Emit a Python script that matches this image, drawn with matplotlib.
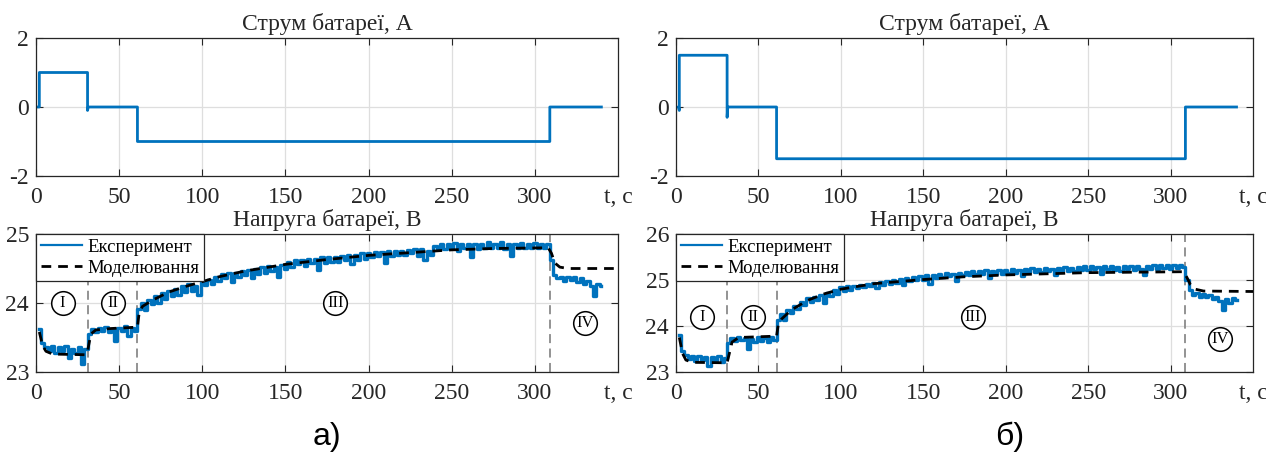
import numpy as np
import matplotlib
matplotlib.use("Agg")
import matplotlib.pyplot as plt

plt.rcParams['font.family'] = ['Liberation Serif', 'DejaVu Serif']

BLUE = '#0072BD'

# ---------------- data ----------------
# battery current (A), step profile
cur_t_a = [1.5, 2.0, 2.0, 31.0, 31.0, 31.4, 61.0, 61.0, 309.0, 309.0, 340.0]
cur_i_a = [0.0, 0.0, 1.0, 1.0, -0.1, 0.0, 0.0, -1.0, -1.0, 0.0, 0.0]
cur_t_b = [1.5, 2.0, 2.0, 31.0, 31.0, 31.4, 61.0, 61.0, 309.0, 309.0, 340.0]
cur_i_b = [0.0, -0.1, 1.5, 1.5, -0.3, 0.0, 0.0, -1.5, -1.5, 0.0, 0.0]

# experimental voltage (V), sampled every 2 s from t=2 to t=340
exp_t = list(range(2, 341, 2))
exp_v_a = [
    23.62, 23.42, 23.36, 23.30, 23.38, 23.28, 23.36, 23.30, 23.37, 23.20,
    23.34, 23.28, 23.36, 23.12, 23.34, 23.55, 23.62, 23.58, 23.64, 23.60,
    23.65, 23.58, 23.62, 23.45, 23.64, 23.60, 23.66, 23.52, 23.64, 23.60,
    23.92, 24.00, 23.90, 24.05, 23.98, 24.10, 24.00, 24.14, 24.06, 24.18,
    24.10, 24.20, 24.12, 24.24, 24.16, 24.28, 24.18, 24.24, 24.12, 24.30,
    24.26, 24.34, 24.28, 24.38, 24.32, 24.42, 24.36, 24.44, 24.30, 24.44,
    24.38, 24.46, 24.40, 24.48, 24.36, 24.50, 24.42, 24.52, 24.44, 24.54,
    24.46, 24.52, 24.38, 24.55, 24.50, 24.60, 24.52, 24.62, 24.56, 24.62,
    24.54, 24.64, 24.58, 24.64, 24.48, 24.66, 24.58, 24.66, 24.60, 24.67,
    24.60, 24.68, 24.62, 24.70, 24.56, 24.70, 24.62, 24.72, 24.64, 24.72,
    24.66, 24.74, 24.68, 24.74, 24.58, 24.75, 24.68, 24.76, 24.70, 24.76,
    24.70, 24.77, 24.72, 24.78, 24.68, 24.78, 24.62, 24.76, 24.70, 24.82,
    24.78, 24.86, 24.78, 24.86, 24.80, 24.87, 24.76, 24.86, 24.80, 24.86,
    24.66, 24.85, 24.78, 24.86, 24.80, 24.88, 24.79, 24.86, 24.80, 24.88,
    24.78, 24.86, 24.68, 24.86, 24.80, 24.87, 24.79, 24.86, 24.80, 24.87,
    24.80, 24.86, 24.79, 24.85, 24.62, 24.40, 24.36, 24.38, 24.32, 24.38,
    24.33, 24.37, 24.30, 24.36, 24.28, 24.32, 24.25, 24.10, 24.28, 24.24,
]
exp_v_b = [
    23.80, 23.45, 23.36, 23.28, 23.34, 23.24, 23.35, 23.26, 23.33, 23.13,
    23.32, 23.25, 23.34, 23.22, 23.30, 23.62, 23.74, 23.68, 23.76, 23.70,
    23.74, 23.50, 23.72, 23.66, 23.76, 23.68, 23.74, 23.66, 23.76, 23.70,
    24.12, 24.26, 24.14, 24.34, 24.28, 24.44, 24.36, 24.52, 24.46, 24.60,
    24.52, 24.64, 24.56, 24.68, 24.50, 24.72, 24.66, 24.78, 24.70, 24.84,
    24.76, 24.86, 24.78, 24.88, 24.82, 24.90, 24.84, 24.92, 24.86, 24.94,
    24.82, 24.96, 24.90, 24.98, 24.92, 25.00, 24.94, 25.02, 24.90, 25.04,
    24.98, 25.06, 25.00, 25.08, 25.00, 25.10, 24.92, 25.10, 25.04, 25.14,
    25.06, 25.16, 25.08, 25.14, 24.98, 25.16, 25.10, 25.18, 25.10, 25.20,
    25.12, 25.20, 25.14, 25.22, 25.04, 25.20, 25.12, 25.22, 25.14, 25.22,
    25.16, 25.24, 25.16, 25.22, 25.08, 25.24, 25.18, 25.26, 25.18, 25.24,
    25.18, 25.26, 25.20, 25.24, 25.10, 25.26, 25.20, 25.28, 25.20, 25.26,
    25.20, 25.28, 25.22, 25.30, 25.22, 25.30, 25.24, 25.28, 25.12, 25.30,
    25.24, 25.30, 25.22, 25.28, 25.20, 25.30, 25.24, 25.30, 25.22, 25.30,
    25.24, 25.10, 25.30, 25.24, 25.32, 25.24, 25.32, 25.26, 25.32, 25.24,
    25.32, 25.26, 25.32, 25.28, 25.00, 24.78, 24.68, 24.72, 24.64, 24.70,
    24.62, 24.68, 24.58, 24.64, 24.54, 24.34, 24.58, 24.50, 24.60, 24.56,
]

# model voltage (V)
mod_t_a = [2, 4, 6, 10, 30, 31, 33, 36, 45, 61, 62, 64, 70, 80, 90, 100, 110,
           125, 150, 175, 200, 225, 250, 275, 308, 310, 312, 315, 320, 350]
mod_v_a = [23.58, 23.38, 23.30, 23.26, 23.25, 23.30, 23.55, 23.61, 23.63, 23.65,
           23.85, 23.95, 24.04, 24.16, 24.24, 24.31, 24.38, 24.46, 24.56, 24.63,
           24.69, 24.73, 24.77, 24.79, 24.80, 24.72, 24.58, 24.52, 24.50, 24.50]
mod_t_b = [2, 4, 6, 10, 31, 32, 34, 38, 61, 62, 64, 70, 80, 90, 100, 120, 150,
           175, 200, 250, 308, 310, 312, 315, 320, 350]
mod_v_b = [23.75, 23.40, 23.26, 23.21, 23.20, 23.35, 23.65, 23.75, 23.78, 24.02,
           24.15, 24.35, 24.56, 24.70, 24.80, 24.92, 25.01, 25.07, 25.11, 25.16,
           25.18, 25.05, 24.90, 24.80, 24.76, 24.75]

stage_lines = [31, 61, 309]
stage_names = ['I', 'II', 'III', 'IV']
stage_x = [16, 46.5, 180, 330]
stage_y_a = [24.0, 24.0, 24.0, 23.71]
stage_y_b = [24.2, 24.2, 24.2, 23.72]

xticks = [0, 50, 100, 150, 200, 250, 300]
title_i = 'Струм батареї, А'
title_v = 'Напруга батареї, В'
legend_labels = ['Експеримент', 'Моделювання']
panel_labels = ['а)', 'б)']

# ---------------- figure ----------------
W, H = 1266, 453
fig = plt.figure(figsize=(W / 100, H / 100), dpi=100)

def px_axes(x0, x1, y0, y1):
    return fig.add_axes([x0 / W, 1 - y1 / H, (x1 - x0) / W, (y1 - y0) / H])

TICK_FS = 17
DARK = '#262626'

def style(ax, ylim, yticks):
    ax.set_xlim(0, 350)
    ax.set_ylim(*ylim)
    ax.set_xticks(xticks)
    ax.set_yticks(yticks)
    ax.grid(True, color='#dedede', lw=0.9)
    ax.set_axisbelow(True)
    ax.tick_params(direction='in', top=True, right=True, length=5, width=0.8,
                   labelsize=TICK_FS, colors=DARK)
    ax.tick_params(axis='x', pad=8)
    ax.tick_params(axis='y', pad=5)
    for s in ax.spines.values():
        s.set_color(DARK)
        s.set_linewidth(0.9)
    ax.annotate('t, c', xy=(1.0, 0), xycoords='axes fraction',
                xytext=(0, -8), textcoords='offset points',
                ha='center', va='top', fontsize=TICK_FS, color=DARK)

lefts = [(36, 618), (676, 1253)]
cur_sets = [(cur_t_a, cur_i_a), (cur_t_b, cur_i_b)]
exp_sets = [exp_v_a, exp_v_b]
mod_sets = [(mod_t_a, mod_v_a), (mod_t_b, mod_v_b)]
vlims = [((23, 25), [23, 24, 25]), ((23, 26), [23, 24, 25, 26])]
stage_ys = [stage_y_a, stage_y_b]
label_x = [327, 1010]

for k in range(2):
    x0, x1 = lefts[k]
    # current
    ax = px_axes(x0, x1, 38, 176)
    ct, ci = cur_sets[k]
    ax.plot(ct, ci, color=BLUE, lw=2.0)
    style(ax, (-2, 2), [-2, 0, 2])
    ax.set_yticklabels(['-2', '0', '2'])
    ax.set_title(title_i, fontsize=TICK_FS, pad=6, color=DARK)

    # voltage
    ax2 = px_axes(x0, x1, 234, 372)
    for xl in stage_lines:
        ax2.axvline(xl, color='#8a8a8a', lw=1.3, ls=(0, (5, 3)), zorder=1.5)
    ax2.plot(exp_t, exp_sets[k], color=BLUE, lw=2.4, zorder=3,
             drawstyle='steps-mid')
    mt, mv = mod_sets[k]
    h2, = ax2.plot(mt, mv, color='black', lw=2.0, ls=(0, (3.5, 2.5)), zorder=4)
    style(ax2, *vlims[k])
    ax2.set_title(title_v, fontsize=TICK_FS, pad=6, color=DARK)
    sy_list = stage_ys[k]
    ax2.plot(stage_x, sy_list, ls='none', marker='o', ms=17, mfc='white',
             mec='black', mew=1.1, zorder=5)
    for name, sx, sy in zip(stage_names, stage_x, sy_list):
        ax2.text(sx, sy, name, ha='center', va='center', fontsize=12,
                 zorder=6, color='black')
    h1l, = ax2.plot([], [], color=BLUE, lw=1.6)
    leg = ax2.legend([h1l, h2], legend_labels, loc='upper left', fontsize=13.5,
                     frameon=True, fancybox=False, borderaxespad=0.0,
                     handlelength=2.2, handletextpad=0.3, borderpad=0.25,
                     labelspacing=0.2, framealpha=1.0)
    leg.get_frame().set_edgecolor(DARK)
    leg.get_frame().set_linewidth(0.9)
    leg.set_zorder(10)

    fig.text(label_x[k] / W, 1 - 437 / H, panel_labels[k], ha='center', va='center',
             fontsize=23, family=['Liberation Sans', 'DejaVu Sans'])

fig.savefig('out.png', dpi=100)
